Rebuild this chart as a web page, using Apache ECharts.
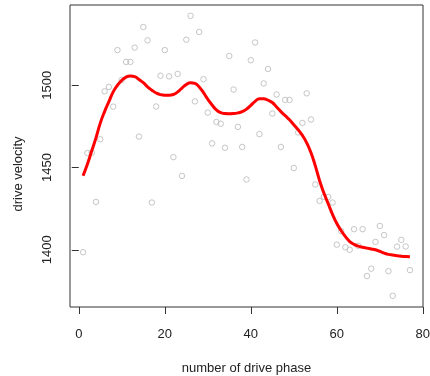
<!DOCTYPE html>
<html>
<head>
<meta charset="utf-8">
<script src="https://cdn.jsdelivr.net/npm/echarts@6/dist/echarts.min.js"></script>
<style>
html,body{margin:0;padding:0;background:#fff;}
#chart{width:430px;height:376px;}
</style>
</head>
<body>
<div id="chart"></div>
<script>
// drive phase numbers
var phases = [1,2,3,4,5,6,7,8,9,10,11,12,13,14,15,16,17,18,19,20,21,22,23,24,25,26,27,28,29,30,31,32,33,34,35,36,37,38,39,40,41,42,43,44,45,46,47,48,49,50,51,52,53,54,55,56,57,58,59,60,61,62,63,64,65,66,67,68,69,70,71,72,73,74,75,76,77];
// observed drive velocity (grey circles)
var velocity = [1398.5,1458.8,1459,1429.1,1467.2,1496.3,1499,1487,1521.4,1503.3,
  1514.2,1514.2,1522.9,1468.8,1535.4,1527.3,1428.7,1487.1,1505.8,1521.4,
  1505.4,1456.3,1506.9,1444.9,1527.7,1542.2,1490.2,1532.4,1503.7,1483.4,
  1464.7,1477.7,1476.6,1462,1517.8,1497.4,1474.7,1462.5,1442.7,1515.2,
  1526,1470.3,1501.1,1509.9,1482.8,1494.4,1462.5,1491.1,1491.1,1449.7,
  1471.3,1477.1,1495.1,1479.2,1439.7,1429.7,1432.2,1432.1,1428.7,1403.1,
  1411.3,1401.5,1400,1412.5,1402.4,1412.5,1384,1388.5,1404.8,1414.5,
  1408.9,1387,1372,1401.9,1406,1402,1387.6];
// smoothed curve (red line) at each phase
var smoothed = [1445,1452,1460,1468,1477,1484,1490,1496,1500,1503,
  1505,1505.7,1505.3,1503.5,1501.6,1499,1497,1495.3,1494.3,1494,
  1494,1494.4,1496,1498.3,1500.5,1501.6,1501.2,1499,1495.5,1491.5,
  1488,1485,1483.3,1482.8,1482.7,1482.8,1483.2,1484,1485.5,1487.8,
  1490.2,1491.8,1491.8,1490.9,1489.5,1486.8,1484,1481.5,1479,1476,
  1473,1469.5,1465,1459,1451,1442,1434.5,1428,1421.5,1416,
  1411.7,1408,1405,1403.3,1402.2,1401.5,1401,1400.5,1400,1399,
  1398,1397.2,1396.8,1396.4,1396.1,1395.9,1395.8];
var xTicks = [0,20,40,60,80];
var yTicks = [1400,1450,1500];
var xLabel = 'number of drive phase';
var yLabel = 'drive velocity';

var pts = phases.map(function(p,i){return [p, velocity[i]];});
var line = phases.map(function(p,i){return [p, smoothed[i]];});

var txt = {color:'#222', fontFamily:'Liberation Sans, Arial, sans-serif', fontSize:13};
var chart = echarts.init(document.getElementById('chart'), null, {renderer:'canvas'});
chart.setOption({
  animation:false,
  backgroundColor:'#fff',
  grid:{left:70,right:7,top:5,bottom:69,show:true,borderColor:'#333',borderWidth:1,backgroundColor:'transparent',
    containLabel:false,outerBoundsMode:'none'},
  xAxis:{type:'value',min:-2.04,max:80.04,
    axisLine:{show:false},
    splitLine:{show:false},
    axisTick:{show:true,length:7,lineStyle:{color:'#333'},customValues:xTicks},
    axisLabel:Object.assign({margin:21,customValues:xTicks,formatter:function(v){return String(v);}},txt),
    name:xLabel,nameLocation:'middle',nameGap:55,nameTextStyle:txt},
  yAxis:{type:'value',min:1365.2,max:1548.8,
    axisLine:{show:false},
    splitLine:{show:false},
    axisTick:{show:true,length:7,lineStyle:{color:'#333'},customValues:yTicks},
    axisLabel:Object.assign({margin:16,rotate:90,customValues:yTicks,formatter:function(v){return String(v);}},txt)},
  graphic:[{type:'text',x:18,y:174,rotation:Math.PI/2,
    style:{text:yLabel,fill:'#222',font:'13px "Liberation Sans", Arial, sans-serif',align:'center',verticalAlign:'middle'}}],
  series:[
    {type:'scatter',data:pts,symbol:'circle',symbolSize:5.5,
     itemStyle:{color:'rgba(0,0,0,0)',borderColor:'#b8b8b8',borderWidth:1},z:2},
    {type:'line',data:line,smooth:true,showSymbol:false,
     lineStyle:{color:'#ff0000',width:3},z:3}
  ]
});
</script>
</body>
</html>
